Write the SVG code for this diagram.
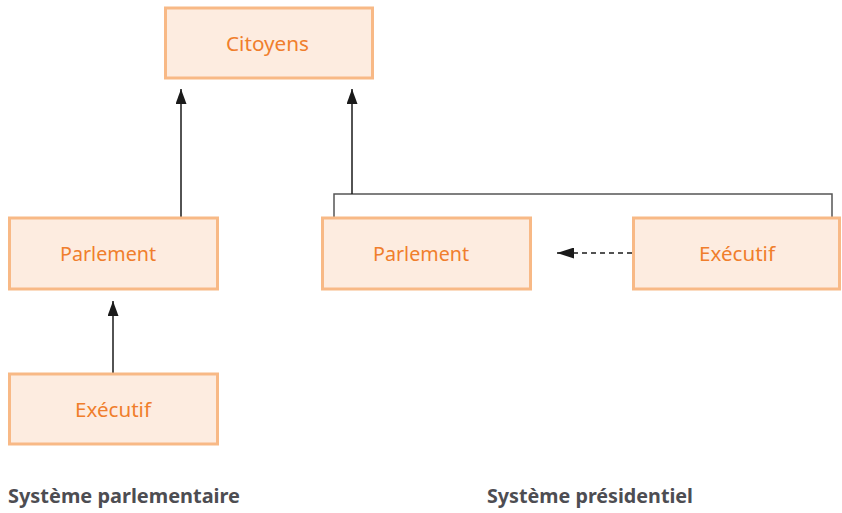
<svg xmlns="http://www.w3.org/2000/svg" width="842" height="513" viewBox="0 0 842 513">
<style>
.box{fill:#fdece0;stroke:#f8b986;stroke-width:3}
.lbl{font-family:"Noto Sans",sans-serif;font-size:20.5px;fill:#f07e2c;text-anchor:middle}
.cap{font-family:"Noto Sans",sans-serif;font-size:19px;font-weight:bold;fill:#4d4d52}
.ln{fill:none;stroke:#1a1a1a;stroke-width:1.5}
.br{fill:none;stroke:#555;stroke-width:1.5}
</style>
<defs>
<marker id="ah" viewBox="0 0 15 11" refX="15" refY="5.5" markerWidth="15" markerHeight="11" markerUnits="userSpaceOnUse" orient="auto">
<path d="M0,0 L15,5.5 L0,11 z" fill="#1a1a1a"/>
</marker>
<marker id="ah2" viewBox="0 0 17 11" refX="17" refY="5.5" markerWidth="17" markerHeight="11" markerUnits="userSpaceOnUse" orient="auto">
<path d="M0,0 L17,5.5 L0,11 z" fill="#1a1a1a"/>
</marker>
</defs>
<g id="connectors">
<line class="ln" x1="181" y1="217" x2="181" y2="89" marker-end="url(#ah)"/>
<line class="ln" x1="113" y1="373" x2="113" y2="301" marker-end="url(#ah)"/>
<polyline class="br" points="334,218 334,194 832,194 832,218"/>
<line class="ln" x1="352" y1="194" x2="352" y2="89" marker-end="url(#ah)"/>
<line class="ln" x1="632" y1="253" x2="557" y2="253" stroke-dasharray="5,4" marker-end="url(#ah2)"/>
</g>
<g id="citoyens">
<rect class="box" x="165.5" y="8" width="207" height="70"/>
<text class="lbl" x="267.5" y="51" textLength="83" lengthAdjust="spacingAndGlyphs">Citoyens</text>
</g>
<g id="parlement-parl">
<rect class="box" x="9.5" y="218" width="208" height="71"/>
<text class="lbl" x="108" y="261" textLength="96" lengthAdjust="spacingAndGlyphs">Parlement</text>
</g>
<g id="executif-parl">
<rect class="box" x="9.5" y="374" width="208" height="70"/>
<text class="lbl" x="113" y="417" textLength="76" lengthAdjust="spacingAndGlyphs">Exécutif</text>
</g>
<g id="parlement-pres">
<rect class="box" x="322.5" y="218" width="208" height="71"/>
<text class="lbl" x="421" y="261" textLength="96" lengthAdjust="spacingAndGlyphs">Parlement</text>
</g>
<g id="executif-pres">
<rect class="box" x="633.5" y="218" width="206" height="71"/>
<text class="lbl" x="737" y="261" textLength="76" lengthAdjust="spacingAndGlyphs">Exécutif</text>
</g>
<g id="captions">
<text class="cap" x="8" y="503" textLength="232" lengthAdjust="spacingAndGlyphs">Système parlementaire</text>
<text class="cap" x="487" y="503" textLength="206" lengthAdjust="spacingAndGlyphs">Système présidentiel</text>
</g>
</svg>
